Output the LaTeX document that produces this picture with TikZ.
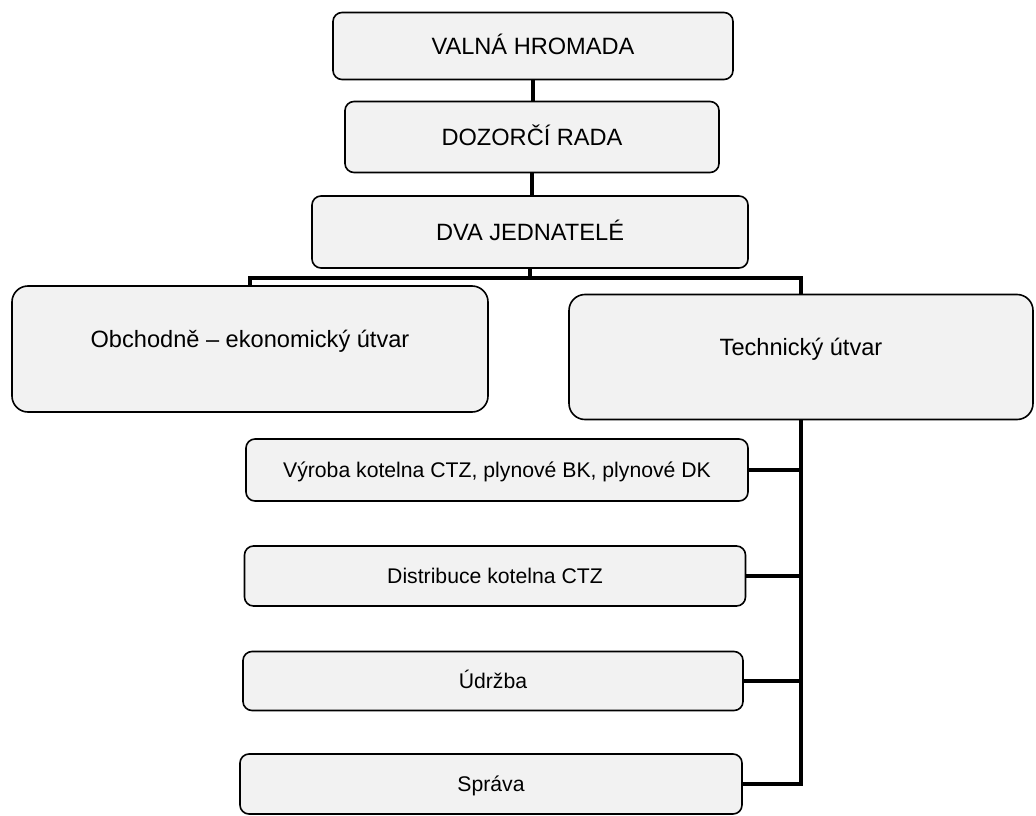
\documentclass[tikz,border=0pt]{standalone}
\usepackage{fontspec}
\setmainfont{Liberation Sans}
\usepackage{tikz}
\usepackage{xcolor}

\begin{document}
\begin{tikzpicture}[x=1pt, y=-1pt,
    box/.style={draw, line width=1.6pt, rounded corners=9pt, fill=black!5, inner sep=0pt, text height=17pt, text depth=0pt, font=\fontsize{23.6}{28}\selectfont},
    bigbox/.style={box, rounded corners=16pt, text depth=20pt},
    subbox/.style={box, text height=15.2pt, font=\fontsize{21.2}{25}\selectfont},
    link/.style={line width=4pt}]
            \useasboundingbox (0,0) rectangle (1036,816);
            \node[box, minimum width=400pt, minimum height=67pt] (Valna) at (533,46) {VALNÁ HROMADA};
            \node[box, minimum width=374pt, minimum height=71pt] (Dozorci) at (532,137) {DOZORČÍ RADA};
            \draw[link] (Valna.south) -- (Valna.south |- Dozorci.north);
            \node[box, minimum width=436pt, minimum height=72pt] (Jednatele) at (530,232) {DVA JEDNATELÉ};
            \draw[link] (Dozorci.south) -- (Dozorci.south |- Jednatele.north);
            \node[bigbox, minimum width=476pt, minimum height=126pt] (Obchod) at (250,349) {Obchodně – ekonomický útvar};
            \node[bigbox, minimum width=464pt, minimum height=125pt] (Tech) at (801,357) {Technický útvar};
            \coordinate (Split) at (530,278);
            \draw[link] (Jednatele.south) -- (Split);
            \draw[link] (Obchod.north) |- (Split) -| (Tech.north);
            \node[subbox, minimum width=502pt, minimum height=62pt] (Vyroba) at (497,470) {Výroba kotelna CTZ, plynové BK, plynové DK};
            \node[subbox, minimum width=501pt, minimum height=60pt] (Distribuce) at (495,576) {Distribuce kotelna CTZ};
            \node[subbox, minimum width=500pt, minimum height=59pt] (Udrzba) at (493,681) {Údržba};
            \node[subbox, minimum width=502pt, minimum height=60pt] (Sprava) at (491,784) {Správa};
            \draw[link] (Tech.south) |- (Sprava.east);
            \draw[link] (Vyroba.east) -- (Vyroba.east -| Tech.south);
            \draw[link] (Distribuce.east) -- (Distribuce.east -| Tech.south);
            \draw[link] (Udrzba.east) -- (Udrzba.east -| Tech.south);
        \end{tikzpicture}
\end{document}
